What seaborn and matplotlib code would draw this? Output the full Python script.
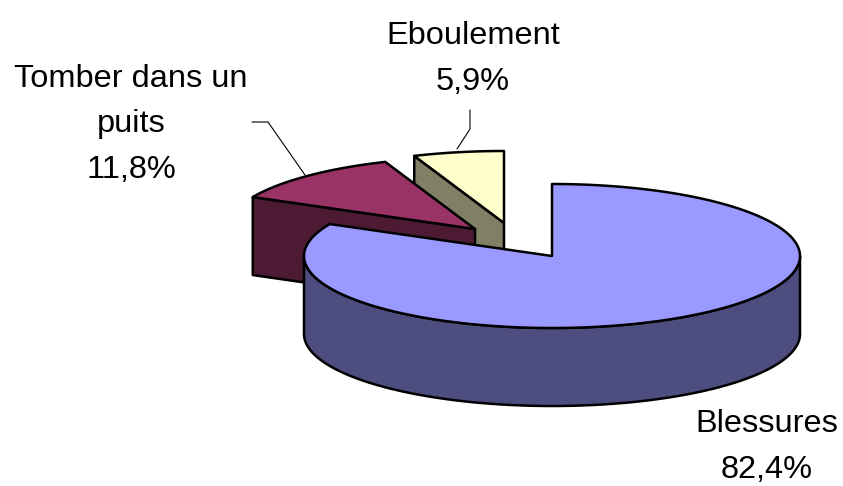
import numpy as np
import matplotlib
matplotlib.use("Agg")
import matplotlib.pyplot as plt
import seaborn as sns

categories = ["Blessures", "Tomber dans un\npuits", "Eboulement"]
values = [82.4, 11.8, 5.9]
top_hex = ["#9999FF", "#993366", "#FFFFCC"]
side_hex = ["#4D4D80", "#4D1A33", "#808066"]

sns.set_style("white")
plt.rcParams["font.family"] = ["Liberation Sans", "DejaVu Sans"]
top_colors = sns.color_palette(top_hex)
side_colors = sns.color_palette(side_hex)

fig = plt.figure(figsize=(8.43, 4.86), dpi=100)
ax = fig.add_axes([0, 0, 1, 1])
ax.set_xlim(0, 843)
ax.set_ylim(486, 0)
ax.axis("off")

RX, RY, DEPTH = 248, 72, 78
LW = 1.8
apexes = [(552, 256), (475, 229), (504, 223)]


def rim(cx, cy, a0, a1, n=120):
    t = np.radians(np.linspace(a0, a1, n))
    return cx + RX * np.sin(t), cy - RY * np.cos(t)


def poly(xs, ys, color, z):
    ax.fill(xs, ys, facecolor=color, edgecolor="black", linewidth=LW,
            joinstyle="round", zorder=z)


fractions = np.array(values) / np.sum(values)
edges = np.concatenate([[0], np.cumsum(fractions) * 360])
spans = list(zip(edges[:-1], edges[1:]))

# Eboulement (rearmost): cut wall, then top
(a0, a1), (cx, cy) = spans[2], apexes[2]
x0, y0 = rim(cx, cy, a0, a0, 1)
poly([x0[0], cx, cx, x0[0]], [y0[0], cy, cy + DEPTH, y0[0] + DEPTH], side_colors[2], 1)
xs, ys = rim(cx, cy, a0, a1)
poly(np.r_[cx, xs], np.r_[cy, ys], top_colors[2], 2)

# Tomber dans un puits: cut wall, then top
(a0, a1), (cx, cy) = spans[1], apexes[1]
x0, y0 = rim(cx, cy, a0, a0, 1)
poly([x0[0], cx, cx, x0[0]], [y0[0], cy, cy + DEPTH, y0[0] + DEPTH], side_colors[1], 3)
xs, ys = rim(cx, cy, a0, a1)
poly(np.r_[cx, xs], np.r_[cy, ys], top_colors[1], 4)

# Blessures (front): outer wall from right extreme to left extreme, then top
(a0, a1), (cx, cy) = spans[0], apexes[0]
xs, ys = rim(cx, cy, 90, 270)
poly(np.r_[xs, xs[::-1]], np.r_[ys, ys[::-1] + DEPTH], side_colors[0], 5)
xs, ys = rim(cx, cy, a0, a1, 240)
poly(np.r_[cx, xs], np.r_[cy, ys], top_colors[0], 6)

# Leader lines
ax.plot([252, 268, 305], [122, 122, 175], color="black", lw=0.8, zorder=7)
ax.plot([470, 470, 457], [110, 129, 149], color="black", lw=0.8, zorder=7)

# Labels (anchored on the baseline of the last line)
label_xy = [(767, 478), (131, 178), (473, 90)]
for name, val, (lx, ly) in zip(categories, values, label_xy):
    txt = f"{name}\n{val:.1f}%".replace(".", ",")
    ax.text(lx, ly, txt, ha="center", va="baseline", multialignment="center",
            fontsize=23.4, color="black", linespacing=1.68, zorder=8,
            clip_on=False)

fig.savefig("out.png", dpi=100, facecolor="white")
